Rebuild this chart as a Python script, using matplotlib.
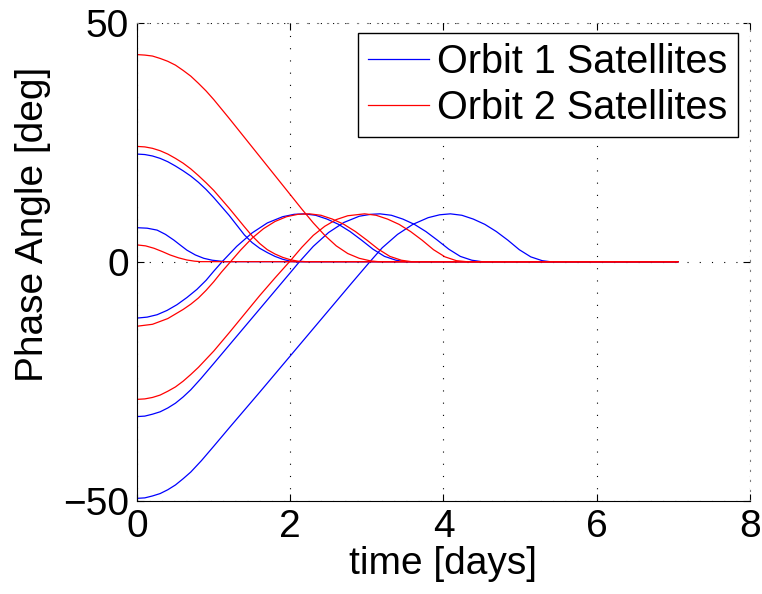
import matplotlib.pyplot as plt

plt.rcParams['font.family'] = ['Liberation Sans', 'DejaVu Sans']

# Orbit 1 satellites (blue): time [days], phase angle [deg]
b1_t = [0, 0.1, 0.2, 0.3, 0.4, 0.5, 0.6, 0.7, 0.8, 0.9, 1.0, 1.2, 1.4, 1.5, 1.6, 1.7, 1.8, 1.9, 2.0, 2.06, 7.06]
b1_deg = [22.5, 22.4, 22.1, 21.6, 20.9, 20.0, 19.0, 17.9, 16.6, 15.1, 13.4, 9.7, 5.6, 4.0, 2.8, 1.9, 1.1, 0.5, 0.1, 0, 0]

b2_t = [0, 0.13, 0.26, 0.37, 0.48, 0.56, 0.65, 0.76, 0.87, 0.98, 1.09, 1.15, 7.06]
b2_deg = [7.1, 7.0, 6.6, 5.7, 4.5, 3.5, 2.4, 1.4, 0.7, 0.3, 0.1, 0, 0]

b3_t = [0, 0.13, 0.26, 0.39, 0.52, 0.65, 0.78, 0.9, 1.0, 1.11, 1.3, 1.5, 1.7, 1.9, 2.05,
        2.18, 2.33, 2.48, 2.63, 2.78, 2.93, 3.08, 3.23, 3.38, 3.5, 7.06]
b3_deg = [-11.8, -11.6, -11.1, -10.2, -9.0, -7.5, -5.8, -3.9, -2.0, 0, 3.2, 6.0, 8.1, 9.4, 9.9,
          10.0, 9.7, 8.9, 7.8, 6.3, 4.5, 2.6, 1.1, 0.3, 0, 0]

b4_t = [0, 0.1, 0.2, 0.3, 0.4, 0.5, 0.6, 0.7, 0.83, 1.0, 1.2, 1.4, 1.6, 1.8, 2.0, 2.12, 2.3, 2.5, 2.7, 2.9, 3.05,
        3.17, 3.32, 3.47, 3.62, 3.77, 3.92, 4.07, 4.22, 4.37, 4.5, 7.06]
b4_deg = [-32.4, -32.3, -31.9, -31.4, -30.6, -29.6, -28.3, -26.8, -24.5, -21.3, -17.5, -13.7, -9.9, -6.1, -2.3, 0,
          3.2, 6.1, 8.2, 9.5, 9.9,
          10.0, 9.7, 8.9, 7.8, 6.3, 4.5, 2.6, 1.1, 0.3, 0, 0]

b5_t = [0, 0.1, 0.2, 0.3, 0.4, 0.5, 0.6, 0.7, 0.84, 1.0, 1.2, 1.6, 2.0, 2.4, 2.8, 3.04, 3.2, 3.4, 3.6, 3.8, 3.95,
        4.09, 4.24, 4.39, 4.54, 4.69, 4.84, 4.99, 5.14, 5.29, 5.39, 7.06]
b5_deg = [-49.5, -49.4, -49.0, -48.5, -47.7, -46.7, -45.4, -44.0, -41.6, -38.6, -34.8, -27.3, -19.7, -12.1, -4.5,
          0, 2.9, 5.7, 7.8, 9.2, 9.8,
          10.0, 9.7, 8.9, 7.8, 6.3, 4.5, 2.5, 1.0, 0.2, 0, 0]

# Orbit 2 satellites (red)
r1_t = [0, 0.1, 0.2, 0.3, 0.4, 0.5, 0.6, 0.7, 0.8, 0.9, 1.0, 1.2, 1.4, 1.6, 1.8, 2.0, 2.15, 2.3, 2.45, 2.6, 2.75,
        2.9, 3.05, 3.15, 7.06]
r1_deg = [43.3, 43.2, 43.0, 42.5, 41.9, 41.1, 40.0, 38.8, 37.3, 35.7, 33.9, 30.0, 26.0, 22.0, 18.0, 14.0, 11.0,
          8.1, 5.5, 3.3, 1.7, 0.7, 0.15, 0, 0]

r2_t = [0, 0.1, 0.2, 0.3, 0.4, 0.5, 0.6, 0.7, 0.8, 0.9, 1.0, 1.2, 1.4, 1.5, 1.6, 1.7, 1.8, 1.9, 2.0, 2.1, 2.2, 7.06]
r2_deg = [24.1, 24.0, 23.7, 23.2, 22.5, 21.6, 20.6, 19.4, 18.0, 16.5, 14.9, 11.2, 7.3, 5.4, 3.8, 2.5, 1.6, 0.9,
          0.4, 0.1, 0, 0]

r3_t = [0, 0.11, 0.22, 0.33, 0.43, 0.54, 0.65, 0.75, 0.83, 7.06]
r3_deg = [3.5, 3.3, 2.8, 2.1, 1.4, 0.8, 0.35, 0.1, 0, 0]

r4_t = [0, 0.2, 0.4, 0.6, 0.7, 0.8, 0.9, 1.0, 1.1, 1.22, 1.35, 1.5, 1.65, 1.8, 1.95, 2.1, 2.25,
        2.4, 2.55, 2.7, 2.85, 3.0, 3.15, 3.3, 3.45, 3.58, 7.06]
r4_deg = [-13.5, -13.1, -11.9, -10.0, -8.9, -7.6, -6.0, -4.2, -2.2, 0, 2.4, 4.9, 6.9, 8.4, 9.4, 9.9, 10.0,
          9.7, 8.9, 7.8, 6.3, 4.5, 2.6, 1.1, 0.3, 0, 0]

r5_t = [0, 0.1, 0.2, 0.3, 0.4, 0.5, 0.6, 0.7, 0.8, 0.9, 1.0, 1.2, 1.4, 1.6, 1.8, 1.99, 2.15, 2.3, 2.45, 2.6, 2.75,
        2.97, 3.12, 3.27, 3.42, 3.57, 3.72, 3.87, 4.02, 4.17, 4.3, 7.06]
r5_deg = [-28.8, -28.7, -28.4, -27.9, -27.1, -26.2, -25.0, -23.6, -22.1, -20.4, -18.7, -14.9, -11.0, -7.1, -3.4,
          0, 3.0, 5.5, 7.4, 8.8, 9.6, 10.0,
          9.7, 8.9, 7.8, 6.3, 4.5, 2.5, 1.0, 0.2, 0, 0]

orbit1 = [(b1_t, b1_deg), (b2_t, b2_deg), (b3_t, b3_deg), (b4_t, b4_deg), (b5_t, b5_deg)]
orbit2 = [(r1_t, r1_deg), (r2_t, r2_deg), (r3_t, r3_deg), (r4_t, r4_deg), (r5_t, r5_deg)]

fig = plt.figure(figsize=(7.62, 5.94), dpi=100)
ax = fig.add_axes([0.18, 0.157, 0.804, 0.805])

for i, (t, d) in enumerate(orbit1):
    ax.plot(t, d, color='b', lw=0.9, label='Orbit 1 Satellites' if i == 0 else None)
for i, (t, d) in enumerate(orbit2):
    ax.plot(t, d, color='r', lw=0.9, label='Orbit 2 Satellites' if i == 0 else None)

ax.set_xlim(0, 8)
ax.set_ylim(-50, 50)
ax.set_xticks([0, 2, 4, 6, 8])
ax.set_yticks([-50, 0, 50])
ax.grid(True, color='k', linestyle=(0, (1, 10)), linewidth=0.8)
ax.tick_params(direction='in', length=5, top=True, right=True, labelsize=28, pad=6)
for s in ['top', 'right']:
    ax.spines[s].set_linestyle((0, (1, 8)))
    ax.spines[s].set_color('0.5')

ax.set_xlabel('time [days]', fontsize=28)
ax.set_ylabel('Phase Angle [deg]', fontsize=28)
ax.xaxis.set_label_coords(0.499, -0.095)
ax.yaxis.set_label_coords(-0.14, 0.577)

leg = ax.legend(loc='upper right', bbox_to_anchor=(0.98, 0.978), borderaxespad=0,
                fontsize=28.5, fancybox=False, framealpha=1, edgecolor='k',
                handlelength=1.55, handletextpad=0.2, labelspacing=0.2,
                borderpad=0.25)
leg.get_frame().set_linewidth(1.0)

plt.savefig('out.png')
